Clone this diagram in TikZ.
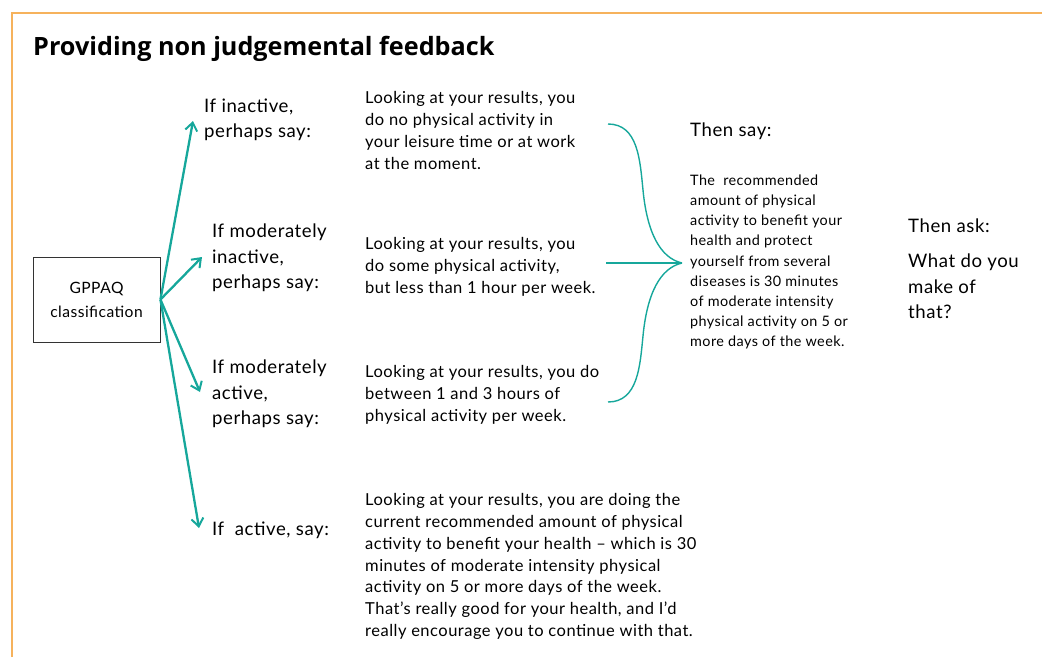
\documentclass[tikz,border=0pt]{standalone}
\usepackage{fontspec}
\setmainfont{Lato}[LetterSpace=3]
\newfontfamily\titlefont{Open Sans}
\usepackage{tikz}
\usetikzlibrary{arrows.meta}
\definecolor{teal1}{RGB}{22,167,155}
\definecolor{frame1}{RGB}{246,178,92}

\begin{document}
\begin{tikzpicture}[x=1pt, y=-1pt,
  arr/.style={draw=teal1, line width=2.3pt, -{Straight Barb[length=8pt, width=12pt, line width=2pt]}},
  brace/.style={draw=teal1, line width=1.4pt},
  lab/.style={anchor=west, inner sep=0pt, align=left, font=\fontsize{18.6}{25.5}\selectfont},
  body/.style={anchor=west, inner sep=0pt, align=left, font=\fontsize{16.5}{21.8}\selectfont},
  small/.style={anchor=west, inner sep=0pt, align=left, font=\fontsize{14.4}{20.2}\selectfont}]
  \useasboundingbox (0,0) rectangle (1042,657);
  % frame and title
  \draw[frame1, line width=1.3pt] (12,657) -- (12,13) -- (1042,13);
  \node[anchor=base west, inner sep=0pt, font=\titlefont\bfseries\fontsize{25.2}{28}\selectfont]
    (title) at (33,55) {Providing non judgemental feedback};
  % classification box
  \node[draw=black!80, line width=0.9pt, minimum width=127pt, minimum height=85pt,
    align=center, font=\fontsize{15.6}{24}\selectfont] (gppaq) at (96.5,299.5) {GPPAQ\\classification};
  % the four cases
  \node[lab] (lab1) at (204,120) {If inactive,\\perhaps say:};
  \node[lab] (lab2) at (212,258) {If moderately\\inactive,\\perhaps say:};
  \node[lab] (lab3) at (212,394) {If moderately\\active,\\perhaps say:};
  \node[lab] (lab4) at (212,530) {If\ \ active, say:};
  \coordinate (tip1) at (193,121);
  \coordinate (tip2) at (202,257);
  \coordinate (tip3) at (200,392);
  \coordinate (tip4) at (199,528);
  \foreach \i in {1,...,4}
    \draw[arr] (gppaq.east) -- (tip\i);
  % what to say
  \node[body] (res1) at (365,130.5) {Looking at your results, you\\do no physical activity in\\your leisure time or at work\\at the moment.};
  \node[body] (res2) at (365,267) {Looking at your results, you\\do some physical activity,\\but less than 1 hour per week.};
  \node[body] (res3) at (365,395) {Looking at your results, you do\\between 1 and 3 hours of\\physical activity per week.};
  \node[body] (res4) at (365,566.5) {Looking at your results, you are doing the\\current recommended amount of physical\\activity to benefit your health -- which is 30\\minutes of moderate intensity physical\\activity on 5 or more days of the week.\\That’s really good for your health, and I’d\\really encourage you to continue with that.};
  % brace
  \coordinate (btop) at (608,124);
  \coordinate (bbot) at (608,402);
  \coordinate (bmid) at (606,263);
  \coordinate (btip) at (682,263);
  \draw[brace] (btop) .. controls (638,124) and (640,160) .. (643,190)
    .. controls (647,232) and (660,258) .. (btip);
  \draw[brace] (bbot) .. controls (638,402) and (640,366) .. (643,336)
    .. controls (647,294) and (660,268) .. (btip);
  \draw[brace] (bmid) -- (btip);
  % then say / then ask
  \node[lab] (say) at (690,131) {Then say:};
  \node[small] (rec) at (690,262) {The\ \ recommended\\amount of physical\\activity to benefit your\\health and protect\\yourself from several\\diseases is 30 minutes\\of moderate intensity\\physical activity on 5 or\\more days of the week.};
  \node[lab] (ask) at (908,226) {Then ask:};
  \node[lab] (what) at (908,286.5) {What do you\\make of\\that?};
\end{tikzpicture}
\end{document}
